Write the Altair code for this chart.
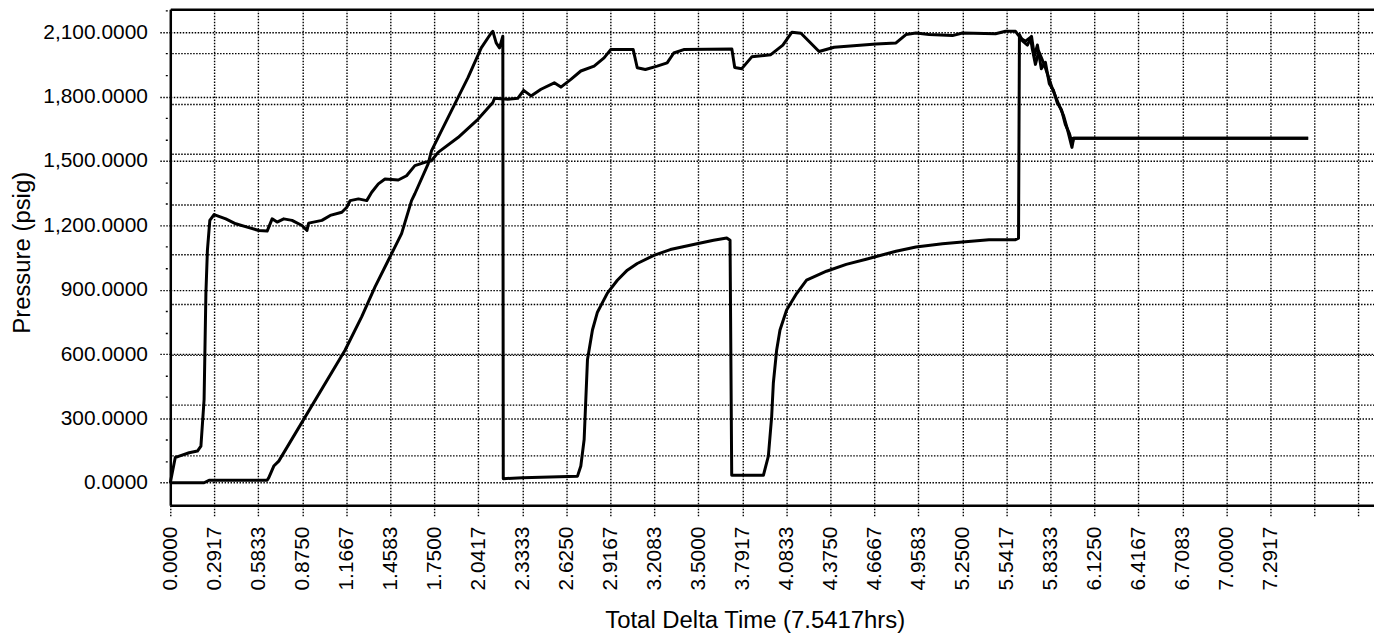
import altair as alt
import pandas as pd

# ---- data (hours, psig) ----
A_T = [0.000, 0.033, 0.059, 0.125, 0.180, 0.203, 0.224, 0.236, 0.246, 0.262, 0.290, 0.368, 0.434, 0.521, 0.587,
       0.642, 0.675, 0.708, 0.752, 0.807, 0.873, 0.906, 0.917, 1.005, 1.060, 1.137, 1.170, 1.192, 1.247, 1.302,
       1.335, 1.379, 1.423, 1.511, 1.566, 1.621, 1.687, 1.731, 1.775, 1.907, 2.039, 2.138, 2.149, 2.237, 2.303,
       2.342, 2.391, 2.457, 2.545, 2.589, 2.655, 2.721, 2.809, 2.875, 2.919, 3.068, 3.095, 3.149, 3.227, 3.293,
       3.337, 3.403, 3.722, 3.741, 3.788, 3.854, 3.980, 4.060, 4.120, 4.180, 4.300, 4.400, 4.678, 4.810, 4.876,
       4.942, 5.030, 5.184, 5.250, 5.470, 5.536, 5.602, 5.635, 5.668, 5.701, 5.712, 5.734, 5.756, 5.778, 5.800,
       5.844, 5.888, 5.921, 5.945, 5.976, 5.987, 7.5417]
A_P = [0, 118, 124, 140, 148, 171, 387, 882, 1083, 1223, 1250, 1230, 1207, 1189, 1176,
       1173, 1230, 1215, 1230, 1223, 1199, 1176, 1210, 1223, 1246, 1261, 1284, 1315, 1323, 1315,
       1354, 1393, 1416, 1411, 1431, 1478, 1493, 1501, 1540, 1609, 1694, 1772, 1792, 1787, 1792,
       1829, 1803, 1834, 1864, 1844, 1880, 1919, 1942, 1980, 2019, 2019, 1934, 1926, 1942, 1957,
       2003, 2019, 2022, 1935, 1930, 1985, 1995, 2040, 2100, 2095, 2010, 2030, 2045, 2050, 2089,
       2096, 2089, 2084, 2096, 2093, 2104, 2104, 2073, 2058, 2076, 2027, 1950, 2011, 1973, 1934,
       1841, 1764, 1710, 1650, 1563, 1606, 1606]

B_T = [0.000, 0.224, 0.257, 0.642, 0.653, 0.686, 0.719, 1.159, 1.269, 1.357, 1.445, 1.533, 1.599, 1.621, 1.709,
       1.731, 1.863, 1.973, 2.061, 2.127, 2.138, 2.160, 2.182, 2.204, 2.207, 2.336, 2.699, 2.721, 2.743, 2.765,
       2.798, 2.831, 2.897, 2.963, 3.029, 3.095, 3.205, 3.314, 3.491, 3.601, 3.688, 3.710, 3.721, 3.931, 3.964,
       3.986, 3.997, 4.019, 4.041, 4.085, 4.151, 4.217, 4.349, 4.480, 4.612, 4.810, 4.942, 5.118, 5.250, 5.426,
       5.602, 5.622, 5.628, 5.648, 5.681, 5.708, 5.727, 5.747, 5.773, 5.800, 5.826, 5.853, 5.879, 5.906, 5.932,
       5.958, 5.978, 5.985, 7.5417]
B_P = [0, 0, 12, 12, 24, 78, 101, 619, 774, 913, 1037, 1161, 1315, 1347, 1486,
       1547, 1733, 1888, 2027, 2096, 2104, 2050, 2027, 2081, 19, 24, 31, 78, 202, 573,
       712, 795, 884, 944, 991, 1022, 1060, 1087, 1114, 1130, 1141, 1130, 35, 35, 124,
       310, 465, 619, 712, 805, 882, 944, 986, 1018, 1042, 1079, 1099, 1114, 1122, 1133,
       1133, 1140, 2089, 2060, 2040, 2081, 1990, 2040, 1930, 1960, 1860, 1830, 1770, 1740, 1670,
       1630, 1580, 1606, 1606]

X_TICKS = [0.0, 0.2917, 0.5833, 0.875, 1.1667, 1.4583, 1.75, 2.0417, 2.3333, 2.625, 2.9167, 3.2083, 3.5,
           3.7917, 4.0833, 4.375, 4.6667, 4.9583, 5.25, 5.5417, 5.8333, 6.125, 6.4167, 6.7083, 7.0, 7.2917,
           7.5833, 7.875]
Y_TICKS = [0, 100, 200, 300, 400, 500, 600, 700, 800, 900, 1000, 1100, 1200, 1300, 1400, 1500, 1600,
           1700, 1800, 1900, 2000, 2100, 2200]
GRID2_TICKS = [1, 2, 3, 4, 5, 6, 7, 8, 9]

X_DOMAIN = [0, 7.978]
Y_DOMAIN = [-104.4, 2206.3]
GRID2_DOMAIN = [0, 9.879]

FONT = "Liberation Sans"
DOT = [1.5, 1.5]
GW = 1.4

rows = []
for i, (t, p) in enumerate(zip(A_T, A_P)):
    rows.append({"t": t, "p": p, "s": "A", "i": i})
for i, (t, p) in enumerate(zip(B_T, B_P)):
    rows.append({"t": t, "p": p, "s": "B", "i": i})
df = pd.DataFrame(rows)

helper_df = pd.DataFrame({"hx": [0.0], "hy": [0.0]})

helper = alt.Chart(helper_df).mark_point(opacity=0).encode(
    x=alt.X("hx:Q", scale=alt.Scale(domain=X_DOMAIN, nice=False, zero=False),
            axis=alt.Axis(orient="top", labels=False, ticks=False, grid=False, domain=True,
                          domainColor="black", domainWidth=2.5, title=None)),
    y=alt.Y("hy:Q", scale=alt.Scale(domain=GRID2_DOMAIN, nice=False, zero=False),
            axis=alt.Axis(orient="right", values=GRID2_TICKS, labels=False, ticks=False, domain=False,
                          grid=True, gridColor="black", gridDash=DOT, gridWidth=GW, title=None)),
)

major = "datum.value % 300 === 0"

lines = alt.Chart(df).mark_line(strokeWidth=3, strokeJoin="round").encode(
    x=alt.X("t:Q", scale=alt.Scale(domain=X_DOMAIN, nice=False, zero=False),
            axis=alt.Axis(orient="bottom", values=X_TICKS,
                          labelExpr="datum.value > 7.4 ? '' : format(datum.value, '.4f')",
                          labelAngle=270, labelAlign="right", labelBaseline="middle",
                          labelPadding=9, labelFontSize=21, labelFont=FONT, labelColor="black",
                          labelFlush=False, labelOverlap=False, labelBound=False,
                          tickSize=12, tickColor="black", tickDash=DOT, tickWidth=GW,
                          grid=True, gridColor="black", gridDash=DOT, gridWidth=GW,
                          domainColor="black", domainWidth=2.5,
                          title="Total Delta Time (7.5417hrs)", titleFont=FONT, titleFontSize=24,
                          titleFontWeight="normal", titleColor="black",
                          titleX=587, titleY=123, titleAlign="center", titleBaseline="alphabetic")),
    y=alt.Y("p:Q", scale=alt.Scale(domain=Y_DOMAIN, nice=False, zero=False),
            axis=alt.Axis(orient="left", values=Y_TICKS,
                          labelExpr=f"{major} ? format(datum.value, ',.4f') : ''",
                          labelPadding=12, labelFontSize=21, labelFont=FONT, labelColor="black",
                          labelFlush=False, labelOverlap=False, labelBound=False,
                          tickSize=11, tickColor="black", tickWidth=GW,
                          tickDash={"condition": {"test": major, "value": DOT}, "value": [0, 3, 2, 20]},
                          grid=True, gridColor="black", gridDash=DOT, gridWidth=GW,
                          gridOpacity={"condition": {"test": major, "value": 1}, "value": 0},
                          domainColor="black", domainWidth=2.5,
                          title="Pressure (psig)", titleFont=FONT, titleFontSize=24,
                          titleFontWeight="normal", titleColor="black", titleAngle=270,
                          titleX=-148, titleY=244, titleAlign="center", titleBaseline="middle")),
    color=alt.Color("s:N", scale=alt.Scale(range=["black", "black"]), legend=None),
    order=alt.Order("i:Q"),
)

chart = alt.layer(helper, lines).resolve_scale(x="independent", y="independent").properties(
    width=1209, height=498,
    autosize=alt.AutoSizeParams(type="none"),
    padding={"left": 163, "top": 0, "right": 0, "bottom": 127},
).configure_view(stroke=None)

chart.save("out.html", embed_options={"renderer": "svg", "actions": False})
